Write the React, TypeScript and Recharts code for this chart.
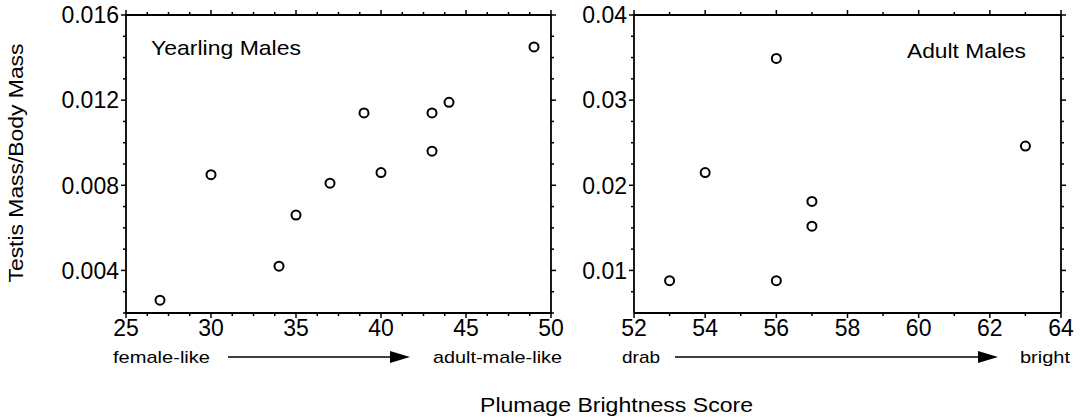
import { Scatter, ScatterChart, XAxis, YAxis } from "recharts";

// Yearling males (left panel)
const yearlingScore = [27, 30, 34, 35, 37, 39, 40, 43, 43, 44, 49];
const yearlingRatio = [0.0026, 0.0085, 0.0042, 0.0066, 0.0081, 0.0114, 0.0086, 0.0114, 0.0096, 0.0119, 0.0145];

// Adult males (right panel)
const adultScore = [53, 54, 56, 56, 57, 57, 63];
const adultRatio = [0.0088, 0.0215, 0.0349, 0.0088, 0.0181, 0.0152, 0.0246];

const yearlingXMajor = [25, 30, 35, 40, 45, 50];
const yearlingXMinor = [26.25, 27.5, 28.75, 31.25, 32.5, 33.75, 36.25, 37.5, 38.75, 41.25, 42.5, 43.75, 46.25, 47.5, 48.75];
const yearlingYMajor = [0.004, 0.008, 0.012, 0.016];
const yearlingYMinor = [0.002, 0.003, 0.005, 0.006, 0.007, 0.009, 0.01, 0.011, 0.013, 0.014, 0.015];

const adultXMajor = [52, 54, 56, 58, 60, 62, 64];
const adultXMinor = [53, 55, 57, 59, 61, 63];
const adultYMajor = [0.01, 0.02, 0.03, 0.04];
const adultYMinor = [0.0075, 0.0125, 0.015, 0.0175, 0.0225, 0.025, 0.0275, 0.0325, 0.035, 0.0375];

const FONT = "'Liberation Sans', Arial, Helvetica, sans-serif";

type Side = "bottom" | "top" | "left" | "right";

function makeTick(side: Side, majors: number[], fmt?: (v: number) => string) {
  return (props: any) => {
    const { x, y, payload } = props;
    const v = payload.value as number;
    const major = majors.some((m) => Math.abs(m - v) < 1e-9);
    const len = major ? 5 : 3;
    let x2 = x;
    let y2 = y;
    if (side === "bottom") y2 = y + len;
    if (side === "top") y2 = y - len;
    if (side === "left") x2 = x - len;
    if (side === "right") x2 = x + len;
    return (
      <g>
        <line x1={x} y1={y} x2={x2} y2={y2} stroke="#000" strokeWidth={1.5} />
        {major && fmt && side === "bottom" && (
          <text x={x} y={y + 23} textAnchor="middle" fontFamily={FONT} fontSize={23} fill="#000">
            {fmt(v)}
          </text>
        )}
        {major && fmt && side === "left" && (
          <text x={x - 7} y={y} dy="0.36em" textAnchor="end" fontFamily={FONT} fontSize={23} fill="#000">
            {fmt(v)}
          </text>
        )}
      </g>
    );
  };
}

const dot = (p: any) => (
  <circle cx={p.cx} cy={p.cy} r={4.5} fill="#fff" stroke="#000" strokeWidth={2} />
);
const noDot = () => <g />;

type PanelProps = {
  xs: number[];
  ys: number[];
  xDomain: [number, number];
  yDomain: [number, number];
  xMajor: number[];
  xMinor: number[];
  yMajor: number[];
  yMinor: number[];
  yFmt: (v: number) => string;
  width: number;
  height: number;
  margin: { top: number; right: number; bottom: number; left: number };
};

// axes are 1px thick, the margins below already account for that
function Panel(p: PanelProps) {
  const data = p.xs.map((x, i) => ({ x, y: p.ys[i] }));
  const xTicks = [...p.xMajor, ...p.xMinor].sort((a, b) => a - b);
  const yTicks = [...p.yMajor, ...p.yMinor].sort((a, b) => a - b);
  const axisLine = { stroke: "#000", strokeWidth: 1.8 };
  return (
    <ScatterChart width={p.width} height={p.height} margin={p.margin}>
      <XAxis
        xAxisId="b"
        type="number"
        dataKey="x"
        domain={p.xDomain}
        ticks={xTicks}
        interval={0}
        height={1}
        tickSize={0}
        tickMargin={0}
        tickLine={false}
        axisLine={axisLine}
        tick={makeTick("bottom", p.xMajor, (v) => String(v))}
        allowDataOverflow
      />
      <XAxis
        xAxisId="t"
        orientation="top"
        type="number"
        dataKey="x"
        domain={p.xDomain}
        ticks={xTicks}
        interval={0}
        height={1}
        tickSize={0}
        tickMargin={0}
        tickLine={false}
        axisLine={axisLine}
        tick={makeTick("top", p.xMajor)}
        allowDataOverflow
      />
      <YAxis
        yAxisId="l"
        type="number"
        dataKey="y"
        domain={p.yDomain}
        ticks={yTicks}
        interval={0}
        width={1}
        tickSize={0}
        tickMargin={0}
        tickLine={false}
        axisLine={axisLine}
        tick={makeTick("left", p.yMajor, p.yFmt)}
        allowDataOverflow
      />
      <YAxis
        yAxisId="r"
        orientation="right"
        type="number"
        dataKey="y"
        domain={p.yDomain}
        ticks={yTicks}
        interval={0}
        width={1}
        tickSize={0}
        tickMargin={0}
        tickLine={false}
        axisLine={axisLine}
        tick={makeTick("right", p.yMajor)}
        allowDataOverflow
      />
      <Scatter xAxisId="t" yAxisId="r" data={data} shape={noDot} isAnimationActive={false} />
      <Scatter xAxisId="b" yAxisId="l" data={data} shape={dot} isAnimationActive={false} />
    </ScatterChart>
  );
}

export default function App() {
  return (
    <div style={{ position: "absolute", left: 0, top: 0, width: 1084, height: 419, background: "#fff" }}>
      <div style={{ position: "absolute", left: 0, top: 0 }}>
        <Panel
          xs={yearlingScore}
          ys={yearlingRatio}
          xDomain={[25, 50]}
          yDomain={[0.002, 0.016]}
          xMajor={yearlingXMajor}
          xMinor={yearlingXMinor}
          yMajor={yearlingYMajor}
          yMinor={yearlingYMinor}
          yFmt={(v) => v.toFixed(3)}
          width={580}
          height={345}
          margin={{ top: 14, right: 28, bottom: 31, left: 125 }}
        />
      </div>
      <div style={{ position: "absolute", left: 580, top: 0 }}>
        <Panel
          xs={adultScore}
          ys={adultRatio}
          xDomain={[52, 64]}
          yDomain={[0.005, 0.04]}
          xMajor={adultXMajor}
          xMinor={adultXMinor}
          yMajor={adultYMajor}
          yMinor={adultYMinor}
          yFmt={(v) => v.toFixed(2)}
          width={504}
          height={345}
          margin={{ top: 14, right: 22, bottom: 31, left: 53 }}
        />
      </div>
      <svg
        width={1084}
        height={419}
        style={{ position: "absolute", left: 0, top: 0, pointerEvents: "none" }}
        fontFamily={FONT}
        fill="#000"
      >
        <text x={151} y={55} fontSize={21} textLength={150} lengthAdjust="spacingAndGlyphs">
          Yearling Males
        </text>
        <text x={907} y={58} fontSize={21} textLength={119} lengthAdjust="spacingAndGlyphs">
          Adult Males
        </text>
        <text
          x={23}
          y={163}
          transform="rotate(-90 23 163)"
          textAnchor="middle"
          fontSize={21}
          textLength={239}
          lengthAdjust="spacingAndGlyphs"
        >
          Testis Mass/Body Mass
        </text>

        <text x={113} y={363} fontSize={17} textLength={97} lengthAdjust="spacingAndGlyphs">
          female-like
        </text>
        <line x1={228} y1={357} x2={395} y2={357} stroke="#000" strokeWidth={1.5} />
        <polygon points="390,351 410,357 390,363" fill="#000" />
        <text x={433} y={363} fontSize={17} textLength={129} lengthAdjust="spacingAndGlyphs">
          adult-male-like
        </text>

        <text x={622} y={363} fontSize={17} textLength={38} lengthAdjust="spacingAndGlyphs">
          drab
        </text>
        <line x1={675} y1={357} x2={983} y2={357} stroke="#000" strokeWidth={1.5} />
        <polygon points="978,351 998,357 978,363" fill="#000" />
        <text x={1020} y={363} fontSize={17} textLength={50} lengthAdjust="spacingAndGlyphs">
          bright
        </text>

        <text x={480} y={412} fontSize={21} textLength={273} lengthAdjust="spacingAndGlyphs">
          Plumage Brightness Score
        </text>
      </svg>
    </div>
  );
}
